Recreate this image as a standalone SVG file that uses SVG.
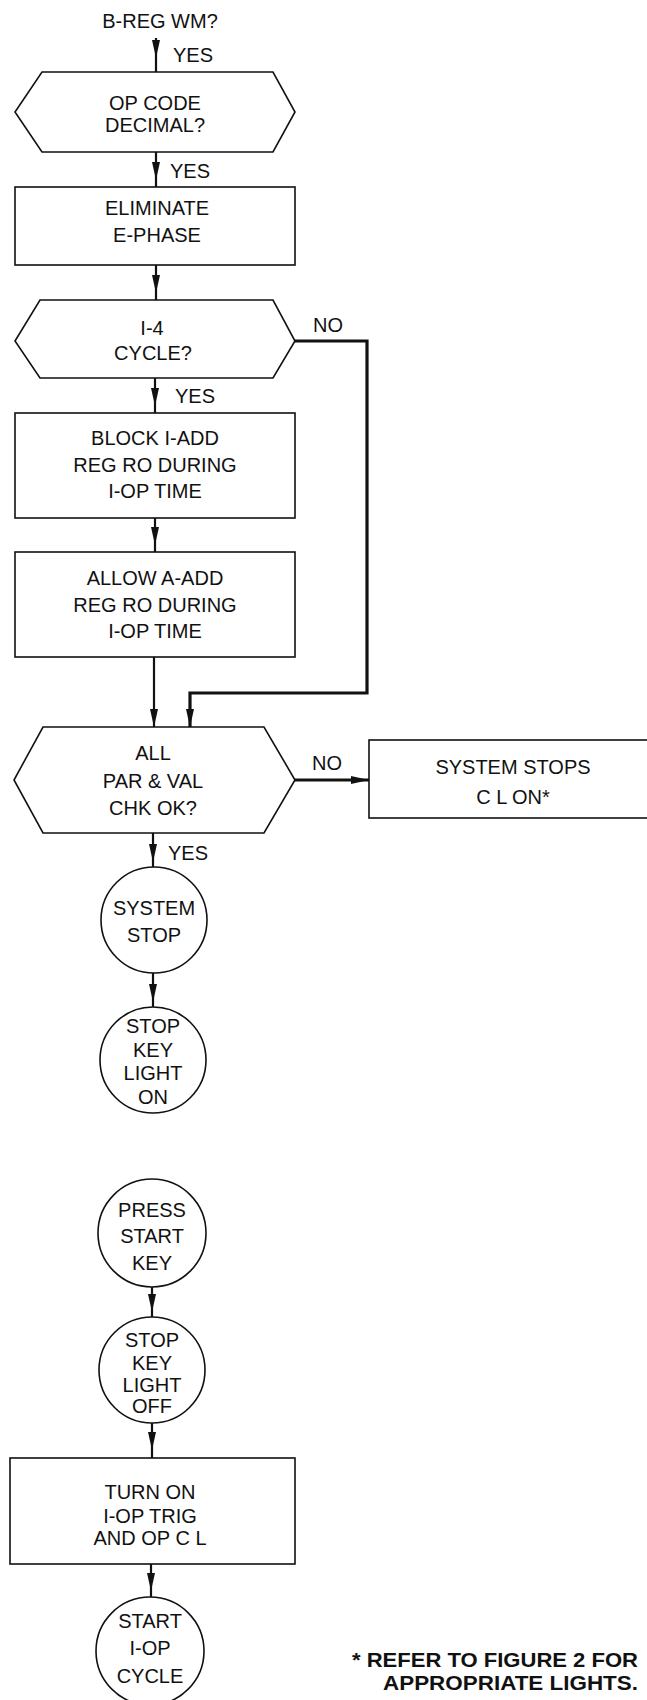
<svg xmlns="http://www.w3.org/2000/svg" width="647" height="1700" viewBox="0 0 647 1700">
<style>
text{font-family:"Liberation Sans","DejaVu Sans",sans-serif;font-size:20px;fill:#111;text-anchor:middle}
.l{text-anchor:start}
.fn{font-weight:bold;font-size:21px}
.s{fill:#fff;stroke:#111;stroke-width:1.6}
.c{fill:none;stroke:#111;stroke-width:2.2}
.m{marker-mid:url(#ah)}
.e{marker-end:url(#ah)}
.t{stroke-width:3.2}
</style>
<defs>
<marker id="ah" viewBox="0 0 18 8" refX="18" refY="4" markerWidth="18" markerHeight="8" markerUnits="userSpaceOnUse" orient="auto">
<path d="M0,0 L18,4 L0,8 Z" fill="#111"/>
</marker>
</defs>
<rect width="647" height="1700" fill="#fff"/>
<g id="connectors">
<path class="c m" d="M156,38 V58 V72"/>
<path class="c m" d="M156,152 V180 V187"/>
<path class="c m" d="M156,265 V293 V300"/>
<path class="c m" d="M155,378 V406 V413"/>
<path class="c m" d="M155,518 V545 V552"/>
<path class="c e" d="M154,657 V727"/>
<path class="c e t" d="M295,341 H367 V693 H190 V727"/>
<path class="c e t" d="M295,780 H369"/>
<path class="c m" d="M153,833 V862 V867"/>
<path class="c m" d="M153,973 V1002 V1007"/>
<path class="c m" d="M152,1287 V1312 V1317"/>
<path class="c m" d="M152,1423 V1450 V1458"/>
<path class="c m" d="M151,1564 V1591 V1597"/>
</g>
<g id="start-label">
<text x="160" y="28">B-REG WM?</text>
</g>
<g id="labels">
<text class="l" x="173" y="62">YES</text>
<text class="l" x="170" y="178">YES</text>
<text class="l" x="313" y="332">NO</text>
<text class="l" x="175" y="403">YES</text>
<text class="l" x="312" y="770">NO</text>
<text class="l" x="168" y="860">YES</text>
</g>
<g id="n-opcode">
<polygon class="s" points="42,72 273,72 295,112 273,152 42,152 15,112"/>
<text x="155" y="110">OP CODE</text>
<text x="155" y="132">DECIMAL?</text>
</g>
<g id="n-eliminate">
<rect class="s" x="15" y="187" width="280" height="78"/>
<text x="157" y="215">ELIMINATE</text>
<text x="157" y="242">E-PHASE</text>
</g>
<g id="n-i4">
<polygon class="s" points="40,300 273,300 295,341 273,378 40,378 15,341"/>
<text x="152" y="335">I-4</text>
<text x="153" y="360">CYCLE?</text>
</g>
<g id="n-block">
<rect class="s" x="15" y="413" width="280" height="105"/>
<text x="155" y="445">BLOCK I-ADD</text>
<text x="155" y="472">REG RO DURING</text>
<text x="155" y="498">I-OP TIME</text>
</g>
<g id="n-allow">
<rect class="s" x="15" y="552" width="280" height="105"/>
<text x="155" y="585">ALLOW A-ADD</text>
<text x="155" y="612">REG RO DURING</text>
<text x="155" y="638">I-OP TIME</text>
</g>
<g id="n-parval">
<polygon class="s" points="43,727 264,727 295,780 264,833 43,833 14,780"/>
<text x="153" y="760">ALL</text>
<text x="153" y="788">PAR &amp; VAL</text>
<text x="153" y="815">CHK OK?</text>
</g>
<g id="n-sysstops">
<rect class="s" x="369" y="740" width="280" height="78"/>
<text x="513" y="774">SYSTEM STOPS</text>
<text x="513" y="804">C L ON*</text>
</g>
<g id="n-systemstop">
<circle class="s" cx="154" cy="920" r="53"/>
<text x="154" y="915">SYSTEM</text>
<text x="154" y="942">STOP</text>
</g>
<g id="n-lighton">
<circle class="s" cx="153" cy="1060" r="53"/>
<text x="153" y="1033">STOP</text>
<text x="153" y="1057">KEY</text>
<text x="153" y="1080">LIGHT</text>
<text x="153" y="1104">ON</text>
</g>
<g id="n-press">
<circle class="s" cx="152" cy="1233" r="54"/>
<text x="152" y="1217">PRESS</text>
<text x="152" y="1243">START</text>
<text x="152" y="1270">KEY</text>
</g>
<g id="n-lightoff">
<circle class="s" cx="152" cy="1370" r="53"/>
<text x="152" y="1347">STOP</text>
<text x="152" y="1370">KEY</text>
<text x="152" y="1392">LIGHT</text>
<text x="152" y="1413">OFF</text>
</g>
<g id="n-turnon">
<rect class="s" x="10" y="1458" width="285" height="106"/>
<text x="150" y="1499">TURN ON</text>
<text x="150" y="1523">I-OP TRIG</text>
<text x="150" y="1545">AND OP C L</text>
</g>
<g id="n-startiop">
<circle class="s" cx="150" cy="1651" r="54"/>
<text x="150" y="1628">START</text>
<text x="150" y="1655">I-OP</text>
<text x="150" y="1683">CYCLE</text>
</g>
<g id="footnote">
<text class="l fn" x="352" y="1667" textLength="286" lengthAdjust="spacingAndGlyphs">* REFER TO FIGURE 2 FOR</text>
<text class="l fn" x="383" y="1690" textLength="255" lengthAdjust="spacingAndGlyphs">APPROPRIATE LIGHTS.</text>
</g>
</svg>
